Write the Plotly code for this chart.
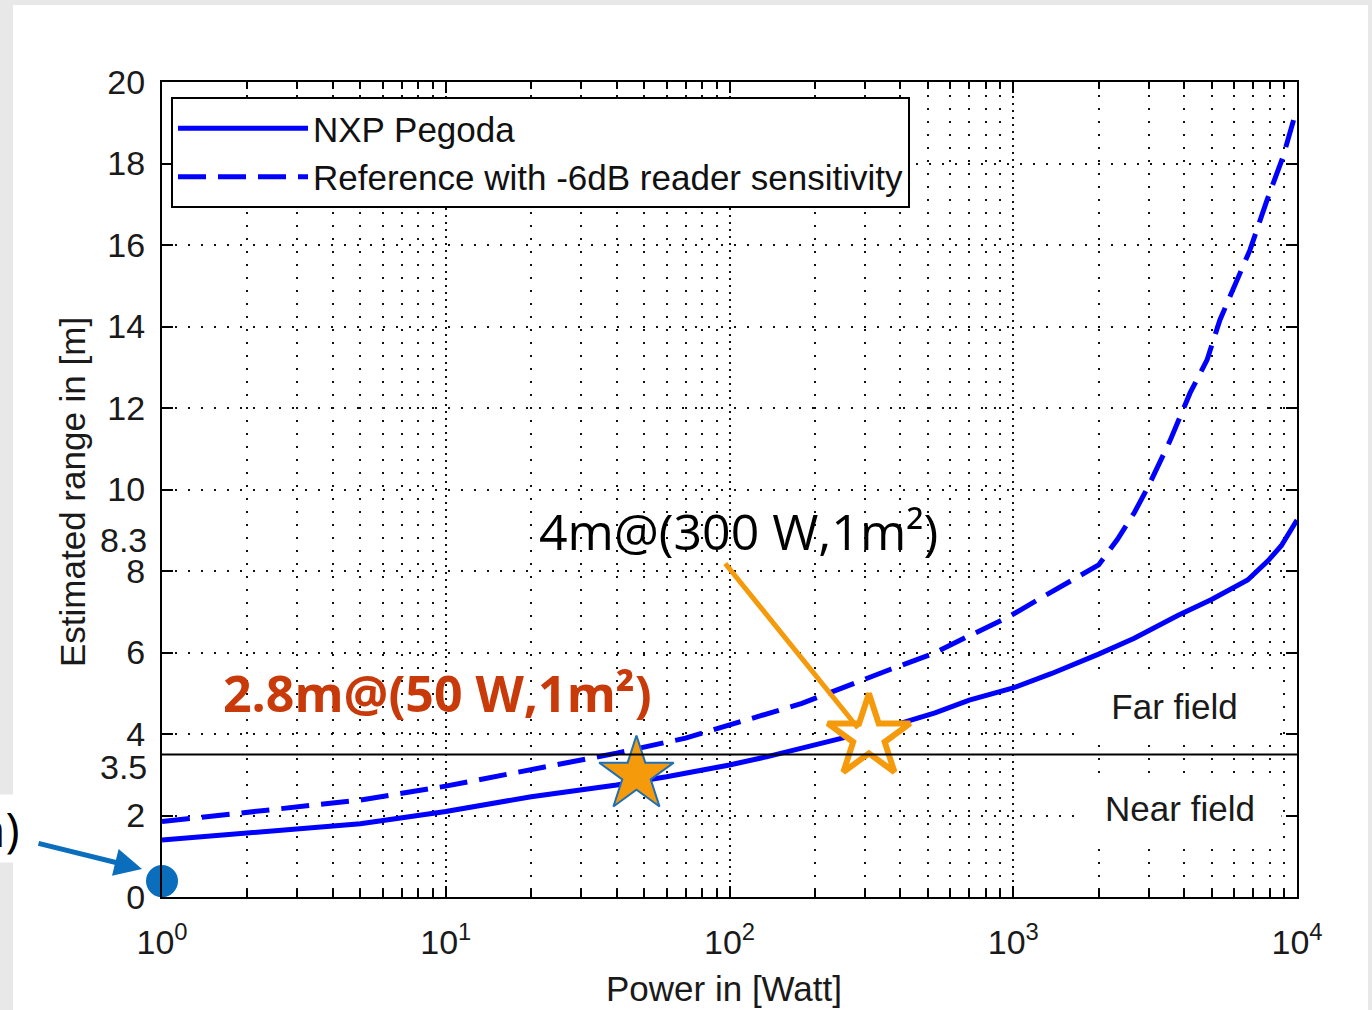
import plotly.graph_objects as go

# ---------------- data ----------------
power_nxp = [1, 2, 5, 10, 20, 40, 60, 100, 135, 260, 400, 530, 700, 1000,
             1360, 2000, 2670, 3800, 5000, 6700, 7900, 8800, 10000]
range_nxp = [1.40, 1.58, 1.80, 2.10, 2.46, 2.75, 2.95, 3.24, 3.44, 3.93, 4.26,
             4.52, 4.83, 5.13, 5.48, 5.96, 6.35, 6.91, 7.30, 7.78, 8.25, 8.62, 9.25]

power_ref = [1, 2, 5, 10, 20, 40, 70, 100, 180, 370, 520, 700, 960, 1290, 1760,
             2000, 2330, 2670, 3000, 3570, 4200, 4820, 5350, 5950, 6830, 7840,
             8930, 9900]
range_ref = [1.85, 2.08, 2.38, 2.72, 3.12, 3.53, 3.90, 4.22, 4.75, 5.59, 5.97,
             6.41, 6.87, 7.39, 7.91, 8.15, 8.78, 9.43, 10.09, 11.2, 12.37, 13.18,
             14.16, 14.9, 15.88, 17.1, 18.17, 19.25]

series_names = ["NXP Pegoda", "Reference with -6dB reader sensitivity"]

star_filled_power = [47]
star_filled_range = [3.0]
star_open_power = [310]
star_open_range = [3.93]
dot_power = [1]
dot_range = [0.39]

field_limit = 3.5
x_tick_vals = [1, 10, 100, 1000, 10000]
x_tick_text = ["10<sup>0</sup>", "10<sup>1</sup>", "10<sup>2</sup>", "10<sup>3</sup>", "10<sup>4</sup>"]
y_tick_vals = [0, 2, 4, 6, 8, 10, 12, 14, 16, 18, 20]
extra_y_labels = ["3.5", "8.3"]

# ---------------- layout geometry ----------------
W, H = 1372, 1010
L, R, T, B = 162, 75, 82, 113
PW, PH = W - L - R, H - T - B


def px(x):
    return (x - L) / PW


def py(y):
    return (H - B - y) / PH


MAT = "Liberation Sans, Arial, Helvetica, sans-serif"
OFF = "Open Sans, Noto Sans, sans-serif"
TXT = "#1a1a1a"
BLUE = "#0000FF"
ORANGE = "#F59A0B"
OBLUE = "#0A6EBD"

fig = go.Figure()
fig.add_trace(go.Scatter(x=power_nxp, y=range_nxp, mode="lines", name=series_names[0],
                         line=dict(color=BLUE, width=5)))
fig.add_trace(go.Scatter(x=power_ref, y=range_ref, mode="lines", name=series_names[1],
                         line=dict(color=BLUE, width=5, dash="28px,12px")))
fig.add_trace(go.Scatter(x=star_filled_power, y=star_filled_range, mode="markers", showlegend=False,
                         marker=dict(symbol="star", size=56, color=ORANGE,
                                     line=dict(color="#1F6FB2", width=2))))
fig.add_trace(go.Scatter(x=star_open_power, y=star_open_range, mode="markers", showlegend=False,
                         marker=dict(symbol="star", size=62, color="white",
                                     line=dict(color=ORANGE, width=6))))
fig.add_trace(go.Scatter(x=dot_power, y=dot_range, mode="markers", showlegend=False,
                         cliponaxis=False,
                         marker=dict(symbol="circle", size=32, color=OBLUE)))

minor_vals = [m * 10 ** d for d in range(4) for m in range(2, 10)]

grid_dot = "2px,11px"
fig.update_xaxes(type="log", range=[0, 4], showline=True, linecolor="black", linewidth=2,
                 mirror="ticks", ticks="inside", ticklen=11, tickwidth=2, tickcolor="black",
                 tickvals=x_tick_vals, ticktext=x_tick_text,
                 tickfont=dict(family=MAT, size=34, color=TXT), ticklabelstandoff=14,
                 showgrid=True, gridcolor="#111", gridwidth=1.6, griddash="2px,5px",
                 zeroline=False, automargin=False,
                 minor=dict(tickvals=minor_vals, ticks="inside", ticklen=7, tickwidth=1.5,
                            tickcolor="black", showgrid=True, gridcolor="#111",
                            gridwidth=1.6, griddash=grid_dot))
fig.update_yaxes(range=[0, 20], showline=True, linecolor="black", linewidth=2,
                 mirror="ticks", ticks="inside", ticklen=11, tickwidth=2, tickcolor="black",
                 tickvals=y_tick_vals,
                 tickfont=dict(family=MAT, size=34, color=TXT), ticklabelstandoff=8,
                 showgrid=True, gridcolor="#111", gridwidth=1.6, griddash=grid_dot,
                 zeroline=False, automargin=False)

shapes = [
    # near / far field boundary
    dict(type="line", xref="paper", yref="y", x0=0, x1=1, y0=field_limit, y1=field_limit,
         line=dict(color="black", width=2)),
    # grey page frame strips
    dict(type="rect", xref="paper", yref="paper", x0=px(0), x1=px(W), y0=py(5), y1=py(0),
         fillcolor="#E8E8E8", line_width=0, layer="below"),
    dict(type="rect", xref="paper", yref="paper", x0=px(0), x1=px(13), y0=py(H), y1=py(0),
         fillcolor="#E8E8E8", line_width=0, layer="below"),
    dict(type="rect", xref="paper", yref="paper", x0=px(1368), x1=px(W), y0=py(H), y1=py(0),
         fillcolor="#E8E8E8", line_width=0, layer="below"),
]

ann = []
# extra y labels
ann.append(dict(xref="paper", yref="paper", x=px(149), y=py(767), xanchor="right", yanchor="middle",
                text=extra_y_labels[0], showarrow=False, font=dict(family=MAT, size=34, color=TXT)))
ann.append(dict(xref="paper", yref="paper", x=px(149), y=py(540), xanchor="right", yanchor="middle",
                text=extra_y_labels[1], showarrow=False, font=dict(family=MAT, size=34, color=TXT)))
# axis titles
ann.append(dict(xref="paper", yref="paper", x=px(724), y=py(988), xanchor="center", yanchor="middle",
                text="Power in [Watt]", showarrow=False, font=dict(family=MAT, size=35, color=TXT)))
ann.append(dict(xref="paper", yref="paper", x=px(72), y=py(492), xanchor="center", yanchor="middle",
                text="Estimated range in [m]", textangle=-90, showarrow=False,
                font=dict(family=MAT, size=35, color=TXT)))
# field labels
ann.append(dict(xref="paper", yref="paper", x=px(1174), y=py(706), xanchor="center", yanchor="middle",
                text="Far field", showarrow=False, bgcolor="white", width=195, height=58,
                font=dict(family=MAT, size=35, color=TXT)))
ann.append(dict(xref="paper", yref="paper", x=px(1180), y=py(808), xanchor="center", yanchor="middle",
                text="Near field", showarrow=False, bgcolor="white", width=200, height=58,
                font=dict(family=MAT, size=35, color=TXT)))
# callouts
ann.append(dict(xref="paper", yref="paper", x=px(858), y=py(728), ax=-134, ay=-166,
                text="", showarrow=True, arrowhead=0, arrowwidth=5, arrowcolor=ORANGE))
ann.append(dict(xref="paper", yref="paper", x=px(738), y=py(531), xanchor="center", yanchor="middle",
                text="4m@(300 W,1m²)", showarrow=False, font=dict(family=OFF, size=50, color="black")))
ann.append(dict(xref="paper", yref="paper", x=px(437), y=py(693), xanchor="center", yanchor="middle",
                text="<b>2.8m@(50 W,1m²)</b>", showarrow=False,
                font=dict(family=OFF, size=50, color="#C93A0B")))
ann.append(dict(xref="paper", yref="paper", x=px(142), y=py(869), ax=-105, ay=-26,
                text="", showarrow=True, arrowhead=2, arrowsize=1.1, arrowwidth=5, arrowcolor=OBLUE))
ann.append(dict(xref="paper", yref="paper", x=px(22), y=py(828), xanchor="right", yanchor="middle",
                text="m)", showarrow=False, bgcolor="white",
                font=dict(family=OFF, size=48, color="black")))

fig.update_layout(
    width=W, height=H,
    margin=dict(l=L, r=R, t=T, b=B, pad=0),
    paper_bgcolor="white", plot_bgcolor="white",
    shapes=shapes, annotations=ann,
    legend=dict(x=px(171), y=py(97), xanchor="left", yanchor="top", bgcolor="white",
                bordercolor="black", borderwidth=2, itemwidth=130, tracegroupgap=0,
                font=dict(family=MAT, size=35, color="#111")),
    showlegend=True,
)

fig.write_html("out.html", config={"displayModeBar": False},
               post_script="document.body.style.margin='0';document.body.style.overflow='hidden';")
